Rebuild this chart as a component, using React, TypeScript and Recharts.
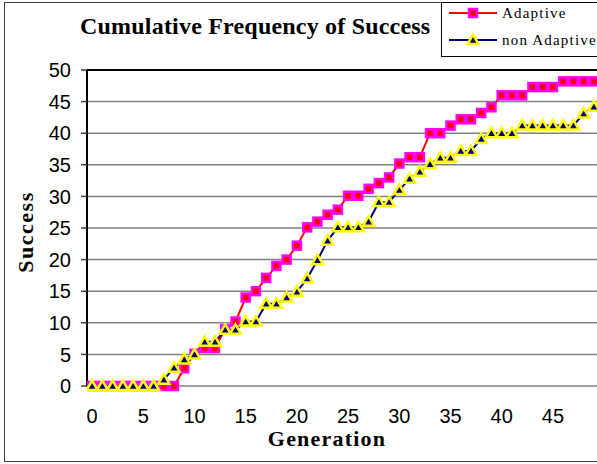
import React from 'react';
import { LineChart, Line, XAxis, YAxis, CartesianGrid, ReferenceLine } from 'recharts';

const generations = [
  0, 1, 2, 3, 4, 5, 6, 7, 8, 9,
  10, 11, 12, 13, 14, 15, 16, 17, 18, 19,
  20, 21, 22, 23, 24, 25, 26, 27, 28, 29,
  30, 31, 32, 33, 34, 35, 36, 37, 38, 39,
  40, 41, 42, 43, 44, 45, 46, 47, 48, 49,
];

const adaptive = [
  0, 0, 0, 0, 0, 0, 0, 0, 0, 2.8,
  5.1, 6, 6, 9, 10.2, 14, 15, 17.1, 19, 20,
  22.2, 25.1, 26, 27.1, 27.9, 30.1, 30.1, 31.2, 32.1, 33,
  35.2, 36.2, 36.2, 40, 40, 41.2, 42.2, 42.2, 43.2, 44.1,
  46, 46, 46, 47.3, 47.3, 47.3, 48.2, 48.2, 48.2, 48.2,
];

const nonAdaptive = [
  0, 0, 0, 0, 0, 0, 0, 1, 2.9, 4.2,
  5, 7, 7, 8.9, 8.9, 10.2, 10.2, 13, 13, 14,
  14.9, 17, 19.9, 23, 25.1, 25.1, 25.1, 26, 29.1, 29.1,
  31, 32.8, 33.9, 35.1, 36.1, 36.1, 37.2, 37.2, 39.1, 40,
  40, 40, 41.2, 41.2, 41.2, 41.2, 41.2, 41.2, 43.1, 44.2,
];

const xTickLabels = [0, 5, 10, 15, 20, 25, 30, 35, 40, 45];
const yTickLabels = [0, 5, 10, 15, 20, 25, 30, 35, 40, 45, 50];
const seriesNames = ['Adaptive', 'non Adaptive'];

const data = generations.map((g, i) => ({ gen: g, adaptive: adaptive[i], nonAdaptive: nonAdaptive[i] }));
const minorTicks = [...generations.map((g) => g - 0.5), generations[generations.length - 1] + 0.5];
const xDomain = [generations[0] - 0.5, generations[generations.length - 1] + 0.5];

const RED = '#FF0000';
const MAGENTA = '#FF00FF';
const NAVY = '#000080';
const YELLOW = '#FFFF00';

const Square = ({ cx, cy }: { cx: number; cy: number }) => (
  <rect x={cx - 4} y={cy - 4} width={8} height={8} fill={RED} stroke={MAGENTA} strokeWidth={2.5} />
);
const Triangle = ({ cx, cy }: { cx: number; cy: number }) => (
  <polygon
    points={`${cx},${cy - 5.5} ${cx + 5.5},${cy + 4} ${cx - 5.5},${cy + 4}`}
    fill={NAVY}
    stroke={YELLOW}
    strokeWidth={2.5}
    strokeLinejoin="miter"
  />
);

const squareDot = (props: any) => {
  if (props.cx == null || props.cy == null) return <g key={`s${props.index}`} />;
  return <g key={`s${props.index}`}><Square cx={props.cx} cy={props.cy} /></g>;
};
const triDot = (props: any) => {
  if (props.cx == null || props.cy == null) return <g key={`t${props.index}`} />;
  return <g key={`t${props.index}`}><Triangle cx={props.cx} cy={props.cy} /></g>;
};

const tickFont = { fontSize: 20, fill: '#000', fontFamily: '"Liberation Sans", Arial, sans-serif' };
const serif = '"Liberation Serif", "Times New Roman", serif';

export default function App() {
  return (
    <div style={{ position: 'fixed', left: 0, top: 0, width: 597, height: 464, overflow: 'hidden', background: '#fff' }}>
      <div
        style={{
          position: 'absolute',
          left: 4,
          top: 2,
          width: 620,
          height: 460,
          border: '1px solid #404040',
          boxSizing: 'border-box',
        }}
      >
        <div style={{ position: 'absolute', left: 0, top: 0 }}>
          <LineChart width={614} height={457} data={data} margin={{ top: 67, right: 20, bottom: 14, left: 0 }}>
            <CartesianGrid xAxisId="main" horizontal vertical={false} stroke="#808080" strokeWidth={1.5} />
            <XAxis
              xAxisId="minor"
              dataKey="gen"
              type="number"
              domain={xDomain}
              ticks={minorTicks}
              interval={0}
              height={0}
              tickFormatter={() => ''}
              tickSize={5}
              tickLine={{ stroke: '#808080', strokeWidth: 1 }}
              axisLine={{ stroke: '#000', strokeWidth: 2 }}
              allowDataOverflow
            />
            <XAxis
              xAxisId="main"
              dataKey="gen"
              type="number"
              domain={xDomain}
              ticks={xTickLabels}
              interval={0}
              height={60}
              tickLine={false}
              axisLine={false}
              tickSize={0}
              tickMargin={23}
              tick={tickFont}
              allowDataOverflow
            />
            <YAxis
              domain={[0, 50]}
              ticks={yTickLabels}
              interval={0}
              width={82}
              tickSize={6}
              tickMargin={10}
              tick={tickFont}
              tickLine={{ stroke: '#404040', strokeWidth: 1.5 }}
              axisLine={{ stroke: '#000', strokeWidth: 2 }}
            />
            <ReferenceLine xAxisId="main" y={50} stroke="#000" strokeWidth={2} />
            <Line
              xAxisId="main"
              dataKey="adaptive"
              name={seriesNames[0]}
              stroke={RED}
              strokeWidth={2}
              dot={squareDot}
              activeDot={false}
              isAnimationActive={false}
            />
            <Line
              xAxisId="main"
              dataKey="nonAdaptive"
              name={seriesNames[1]}
              stroke={NAVY}
              strokeWidth={2}
              dot={triDot}
              activeDot={false}
              isAnimationActive={false}
            />
          </LineChart>
        </div>
      </div>
      <svg width={597} height={464} style={{ position: 'absolute', left: 0, top: 0, pointerEvents: 'none' }}>
        <text x={80} y={34} fontFamily={serif} fontWeight="bold" fontSize={24} letterSpacing={0.2} fill="#000">
          Cumulative Frequency of Success
        </text>
        <text x={327} y={446} textAnchor="middle" fontFamily={serif} fontWeight="bold" fontSize={22} letterSpacing={1.2} fill="#000">
          Generation
        </text>
        <text transform="translate(33,232) rotate(-90)" textAnchor="middle" fontFamily={serif} fontWeight="bold" fontSize={22} letterSpacing={1.5} fill="#000">
          Success
        </text>
        <rect x={441.5} y={2.5} width={200} height={54} fill="#fff" stroke="#000" strokeWidth={1} />
        <line x1={449} y1={13} x2={497} y2={13} stroke={RED} strokeWidth={2} />
        <Square cx={473} cy={13} />
        <text x={502} y={18} fontFamily={serif} fontSize={15} letterSpacing={1.2} fill="#000">
          {seriesNames[0]}
        </text>
        <line x1={449} y1={40} x2={497} y2={40} stroke={NAVY} strokeWidth={2} />
        <Triangle cx={473} cy={40} />
        <text x={502} y={45} fontFamily={serif} fontSize={15} letterSpacing={1.2} fill="#000">
          {seriesNames[1]}
        </text>
      </svg>
    </div>
  );
}
